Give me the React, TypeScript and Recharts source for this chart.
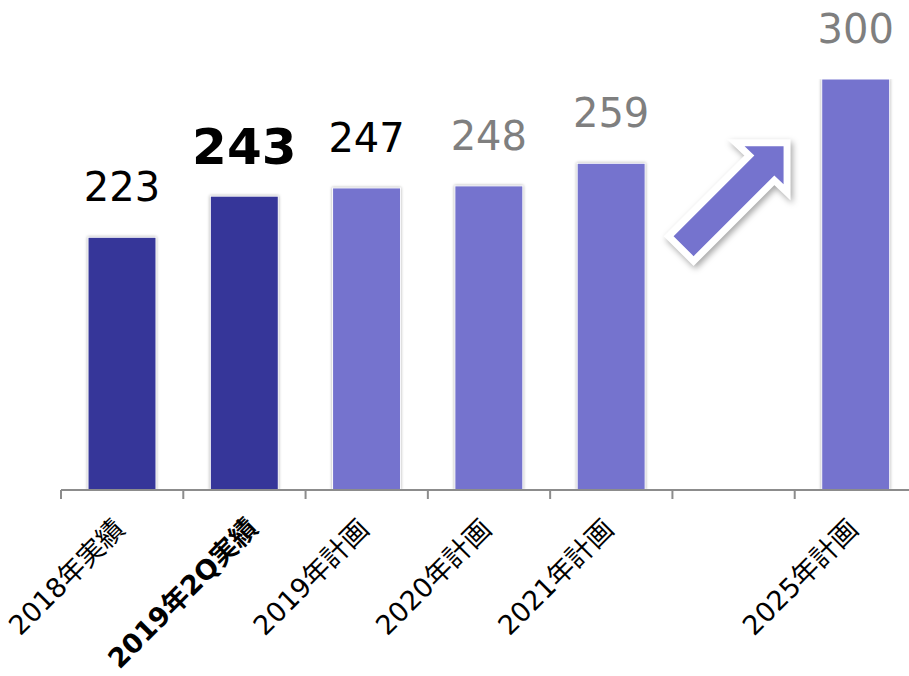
import React from 'react';
import { BarChart, Bar, XAxis, YAxis, Cell, LabelList, ReferenceDot } from 'recharts';

// ---- data ----
const CATEGORIES = ['2018年実績', '2019年2Q実績', '2019年計画', '2020年計画', '2021年計画', ' ', '2025年計画'];
const VALUES: (number | null)[] = [223, 243, 247, 248, 259, null, 300];
const Y_DOMAIN: [number, number] = [100, 300];
const ARROW_CATEGORY = ' ';
const ARROW_LEVEL = 243;

// ---- styles ----
const DARK = '#363699';
const LIGHT = '#7573CE';
const BAR_COLORS = [DARK, DARK, LIGHT, LIGHT, LIGHT, LIGHT, LIGHT];
const LABEL_COLORS = ['#000', '#000', '#000', '#7f7f7f', '#7f7f7f', '#7f7f7f', '#7f7f7f'];
const LABEL_BOLD = [false, true, false, false, false, false, false];
const TICK_BOLD = [false, true, false, false, false, false, false];

const data = CATEGORIES.map((name, i) => ({ name, value: VALUES[i] }));

const CHART_W = 917;
const CHART_H = 676;
const MARGIN = { top: 79, right: 0, bottom: 0, left: 61 };
const PLOT_W = CHART_W - MARGIN.left - MARGIN.right;
const SLOT = PLOT_W / CATEGORIES.length;

const TICK_FONT = "'DejaVu Sans', 'Noto Sans CJK JP', sans-serif";

const CustomTick = (props: any) => {
  const { x, y, payload, index } = props;
  const bold = TICK_BOLD[index];
  const ax = x + (bold ? 15 : 4);
  const ay = y + (bold ? 40 : 41);
  const left = x - SLOT / 2;
  return (
    <g>
      <line x1={left} y1={y} x2={left} y2={y + 9} stroke="#8c8c8c" strokeWidth={2} />
      {index === CATEGORIES.length - 1 && (
        <line x1={x + SLOT / 2} y1={y} x2={x + SLOT / 2} y2={y + 9} stroke="#8c8c8c" strokeWidth={2} />
      )}
      <text
        x={ax}
        y={ay}
        textAnchor="end"
        transform={`rotate(-45, ${ax}, ${ay})`}
        fontFamily={TICK_FONT}
        fontSize={27}
        fontWeight={bold ? 700 : 400}
        fill="#000"
      >
        {payload.value}
      </text>
    </g>
  );
};

const ValueLabel = (props: any) => {
  const { x, y, width, value, index } = props;
  if (value === null || value === undefined) return null;
  const bold = LABEL_BOLD[index];
  return (
    <text
      x={x + width / 2}
      y={y - (bold ? 32 : 36)}
      textAnchor="middle"
      fontFamily="'DejaVu Sans', sans-serif"
      fontSize={bold ? 50 : 40}
      fontWeight={bold ? 700 : 400}
      fill={LABEL_COLORS[index]}
    >
      {value}
    </text>
  );
};

const BarShape = (props: any) => {
  const { x, y, width, height, fill } = props;
  if (!height || height <= 0) return null;
  return (
    <rect
      x={x}
      y={y}
      width={width}
      height={height}
      fill={fill}
      stroke="#ffffff"
      strokeWidth={1}
      style={{ filter: 'drop-shadow(0px 0px 1.5px rgba(0,0,0,0.35))' }}
    />
  );
};

const ArrowShape = (props: any) => {
  const { cx, cy } = props;
  const pts: [number, number][] = [
    [-60, 40],
    [20.75, -40.75],
    [11, -50],
    [50, -50],
    [50, -12],
    [40.75, -20.75],
    [-40, 60],
  ];
  const d = pts.map(([px, py]) => `${cx + px},${cy + py}`).join(' ');
  return (
    <g>
      <polygon
        points={d}
        fill="#ffffff"
        stroke="#ffffff"
        strokeWidth={14}
        strokeLinejoin="miter"
        style={{ filter: 'drop-shadow(2px 3px 3px rgba(0,0,0,0.35))' }}
      />
      <polygon points={d} fill={LIGHT} />
    </g>
  );
};

export default function App() {
  return (
    <div style={{ width: 909, height: 676, overflow: 'hidden', position: 'relative' }}>
      <style>{`html,body{margin:0;padding:0;overflow:hidden;background:#fff;}`}</style>
      <BarChart width={CHART_W} height={CHART_H} data={data} margin={MARGIN} barCategoryGap={27}>
        <YAxis hide domain={Y_DOMAIN} type="number" allowDataOverflow />
        <XAxis
          dataKey="name"
          interval={0}
          height={CHART_H - MARGIN.top - 411}
          axisLine={{ stroke: '#8c8c8c', strokeWidth: 2 }}
          tickLine={false}
          tickSize={0}
          tickMargin={0}
          tick={<CustomTick />}
        />
        <Bar dataKey="value" isAnimationActive={false} shape={<BarShape />}>
          {data.map((d, i) => (
            <Cell key={d.name + i} fill={BAR_COLORS[i]} />
          ))}
          <LabelList dataKey="value" content={<ValueLabel />} />
        </Bar>
        <ReferenceDot x={ARROW_CATEGORY} y={ARROW_LEVEL} shape={<ArrowShape />} ifOverflow="visible" />
      </BarChart>
    </div>
  );
}
